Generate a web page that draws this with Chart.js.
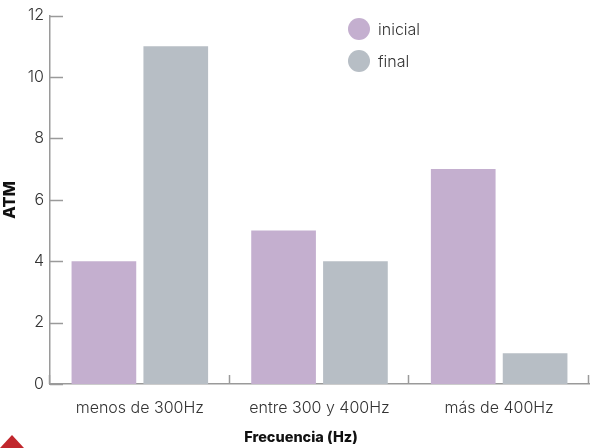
<!DOCTYPE html>
<html>
<head>
<meta charset="utf-8">
<script src="https://cdn.jsdelivr.net/npm/chart.js@4/dist/chart.umd.min.js"></script>
<style>
  html, body { margin: 0; padding: 0; background: #fff; }
  #wrap { position: relative; width: 590px; height: 448px; }
</style>
</head>
<body>
<div id="wrap"><canvas id="c" width="590" height="448"></canvas></div>
<script>
const categories = ['menos de 300Hz', 'entre 300 y 400Hz', 'más de 400Hz'];
const seriesNames = ['inicial', 'final'];
const inicialValues = [4, 5, 7];
const finalValues = [11, 4, 1];
const yTickValues = [0, 2, 4, 6, 8, 10, 12];
const xTitle = 'Frecuencia (Hz)';

const PURPLE = '#c4afcf';
const GREY = '#b7bec5';
const AXIS = '#9a9a9a';
const TEXT = '#333333';
const FONT = 'Inter';

// Inward tick marks on both axes, a vertical legend, the x title and the corner mark
const decorations = {
  id: 'decorations',
  afterDraw(chart) {
    const ctx = chart.ctx;
    const x = chart.scales.x, y = chart.scales.y;
    ctx.save();
    ctx.strokeStyle = AXIS;
    ctx.lineWidth = 1.5;
    // y ticks point into the plot
    yTickValues.forEach(v => {
      const py = Math.round(y.getPixelForValue(v)) + 0.5;
      ctx.beginPath();
      ctx.moveTo(x.left, py);
      ctx.lineTo(x.left + 13, py);
      ctx.stroke();
    });
    // x ticks at category boundaries
    for (let i = 0; i <= categories.length; i++) {
      const px = Math.round(x.getPixelForValue(i - 0.5)) - 0.5;
      ctx.beginPath();
      ctx.moveTo(px, y.bottom);
      ctx.lineTo(px, y.bottom - 9);
      ctx.stroke();
    }
    // legend
    ctx.font = '300 16px ' + FONT;
    ctx.textBaseline = 'middle';
    ctx.textAlign = 'left';
    chart.data.datasets.forEach((ds, i) => {
      const cy = 29 + i * 32;
      ctx.fillStyle = ds.backgroundColor;
      ctx.beginPath();
      ctx.arc(359, cy, 11, 0, Math.PI * 2);
      ctx.fill();
      ctx.fillStyle = TEXT;
      ctx.fillText(ds.label, 378, cy + 1);
    });
    // x axis title, centred on the page
    ctx.font = '800 14.5px ' + FONT;
    ctx.fillStyle = '#111';
    ctx.textAlign = 'center';
    ctx.fillText(xTitle, chart.width / 2 + 6, 438);
    // corner triangle
    ctx.fillStyle = '#c1272d';
    ctx.beginPath();
    ctx.moveTo(0, 448);
    ctx.lineTo(12, 435);
    ctx.lineTo(24, 448);
    ctx.closePath();
    ctx.fill();
    ctx.restore();
  }
};

new Chart(document.getElementById('c'), {
  type: 'bar',
  data: {
    labels: categories,
    datasets: [
      { label: seriesNames[0], data: inicialValues, backgroundColor: PURPLE },
      { label: seriesNames[1], data: finalValues, backgroundColor: GREY }
    ]
  },
  options: {
    responsive: false,
    animation: false,
    events: [],
    layout: { padding: { top: 15, right: 1, left: 0, bottom: 0 } },
    datasets: { bar: { categoryPercentage: 0.8, barPercentage: 0.9 } },
    plugins: { legend: { display: false }, tooltip: { enabled: false } },
    scales: {
      x: {
        offset: true,
        grid: { display: false, drawTicks: false },
        border: { display: true, color: AXIS, width: 1.5 },
        ticks: { color: TEXT, font: { family: FONT, size: 16, weight: '300' }, padding: 15, maxRotation: 0 },
        afterFit(s) { s.height = 64; }
      },
      y: {
        min: 0, max: 12,
        afterBuildTicks(s) { s.ticks = yTickValues.map(v => ({ value: v })); },
        grid: { display: false, drawTicks: false },
        border: { display: true, color: AXIS, width: 1.5 },
        ticks: { color: TEXT, font: { family: FONT, size: 16, weight: '300' }, padding: 6 },
        title: { display: true, text: 'ATM', color: '#111', font: { family: FONT, size: 16.5, weight: '800' }, padding: { top: 0, bottom: 2 } },
        afterFit(s) { s.width = 50; }
      }
    }
  },
  plugins: [decorations]
});
</script>
</body>
</html>
